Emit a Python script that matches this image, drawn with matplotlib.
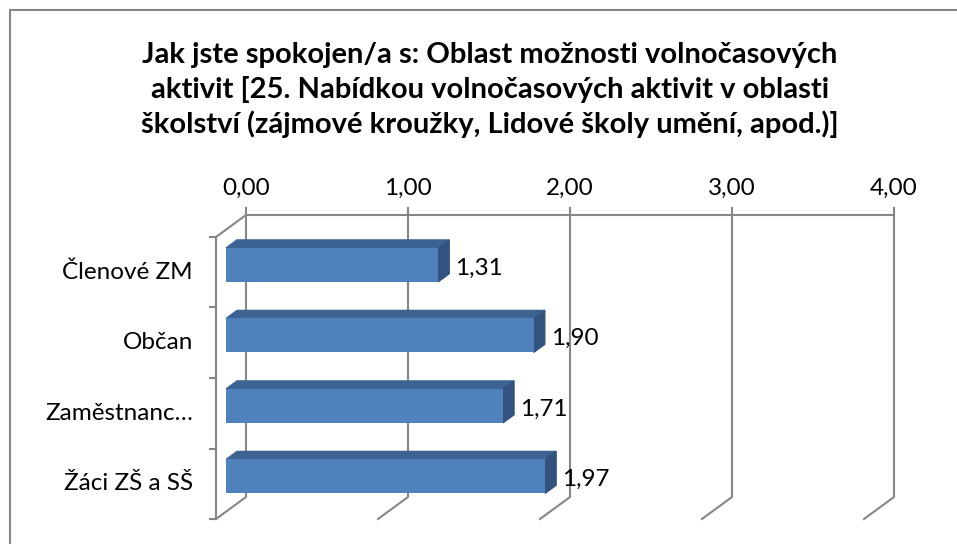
import matplotlib.pyplot as plt
from matplotlib.patches import Polygon, Rectangle

categories = ['Členové ZM', 'Občan', 'Zaměstnanc…', 'Žáci ZŠ a SŠ']
values = [1.31, 1.90, 1.71, 1.97]
ticks = [0, 1, 2, 3, 4]
tick_labels = ['0,00', '1,00', '2,00', '3,00', '4,00']
title = ('Jak jste spokojen/a s: Oblast možnosti volnočasových\n'
         'aktivit [25. Nabídkou volnočasových aktivit v oblasti\n'
         'školství (zájmové kroužky, Lidové školy umění, apod.)]')

plt.rcParams['font.family'] = ['Lato', 'DejaVu Sans']

W, H = 957, 544
fig = plt.figure(figsize=(W / 100, H / 100), dpi=100)

# frame around the chart (right and bottom edges fall outside the picture)
fig.patches.append(Rectangle((10 / W, -0.2), 2, 1.2 - 10 / H, transform=fig.transFigure,
                             fill=False, edgecolor='#868686', linewidth=1.5))

# front plane of the 3d box
ax = fig.add_axes([216 / W, 25 / H, 648 / W, 282 / H])
ax.set_xlim(ticks[0], ticks[-1])
ax.set_ylim(len(categories) - 0.5, -0.5)
ax.axis('off')

ux = ax.bbox.width / (ticks[-1] - ticks[0])
uy = ax.bbox.height / len(categories)
DX, DY = 30, 22          # depth of the box in pixels
grid = dict(color='#868686', lw=1.5, clip_on=False, zorder=1)
fs = 17.5


def pt(v, c, d=0.0, ex=0, ey=0):
    # d = depth (0 front, 1 back), ex/ey extra pixel shift
    return v + (d * DX + ex) / ux, c - (d * DY + ey) / uy


top, bot = -0.5, len(categories) - 0.5
for t, lab in zip(ticks, tick_labels):
    xs, ys = zip(pt(t, top, 1, ey=7), pt(t, bot, 1), pt(t, bot, 0))
    ax.plot(xs, ys, **grid)
    ax.annotate(lab, pt(t, top, 1), xytext=(0, 19), textcoords='offset points',
                ha='center', va='center', fontsize=fs, annotation_clip=False)
xs, ys = zip(pt(ticks[-1], top, 1), pt(0, top, 1), pt(0, top, 0), pt(0, bot, 0))
ax.plot(xs, ys, **grid)
for k in range(len(categories) + 1):
    xs, ys = zip(pt(0, k - 0.5, 0), pt(0, k - 0.5, 0, ex=-6))
    ax.plot(xs, ys, **grid)

# bars
h = 0.48
d0, d1 = 10 / DX, 21 / DX
ypos = [i - d0 * DY / uy for i in range(len(categories))]
ax.barh(ypos, values, left=d0 * DX / ux, height=h, color='#4F81BD', zorder=4)
for i, v in enumerate(values):
    a, b = i - h / 2, i + h / 2
    ax.add_patch(Polygon([pt(0, a, d0), pt(v, a, d0), pt(v, a, d1), pt(0, a, d1)],
                         closed=True, color='#3D6392', zorder=3))
    ax.add_patch(Polygon([pt(v, a, d0), pt(v, b, d0), pt(v, b, d1), pt(v, a, d1)],
                         closed=True, color='#33537E', zorder=3))
    ax.annotate(f'{v:.2f}'.replace('.', ','), (v, i), xytext=(19.5, 3), textcoords='offset points',
                ha='left', va='center', fontsize=fs, annotation_clip=False)
    ax.annotate(categories[i], (0, i), xytext=(-16.5, 0), textcoords='offset points',
                ha='right', va='center', fontsize=fs, annotation_clip=False)

fig.text(490 / W, 1 - 90 / H, title, ha='center', va='center', fontsize=21,
         fontweight='bold', linespacing=1.35)

fig.savefig('out.png', dpi=100)
